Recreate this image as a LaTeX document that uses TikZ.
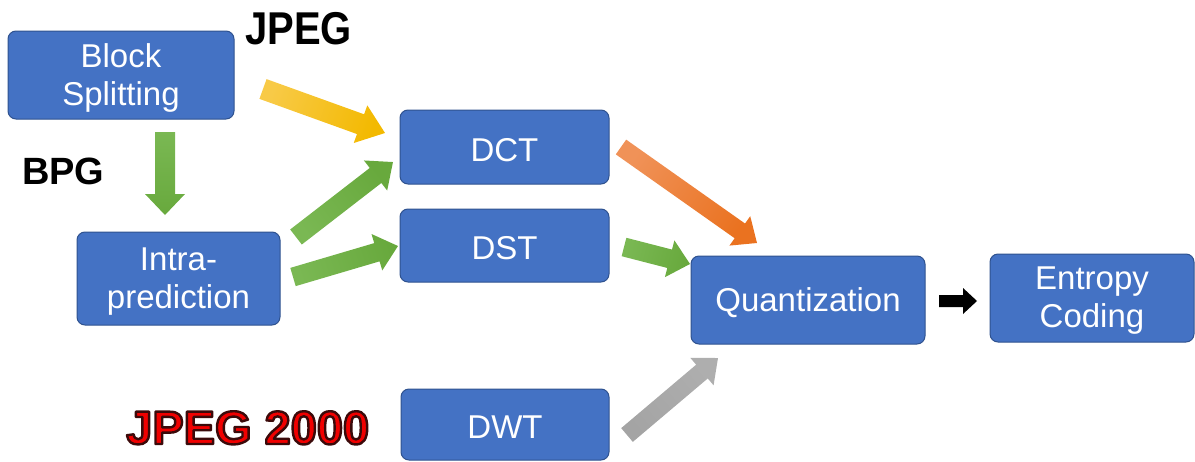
\documentclass[tikz,border=0pt]{standalone}
\usepackage{fontspec}
\setmainfont{Liberation Sans}
\usetikzlibrary{calc}
\definecolor{boxblue}{HTML}{4472C4}
\definecolor{boxedge}{HTML}{2F528F}
\definecolor{yellowA}{HTML}{F8CA47}
\definecolor{yellowB}{HTML}{F3B900}
\definecolor{greenA}{HTML}{7AB853}
\definecolor{greenB}{HTML}{68A93D}
\definecolor{orangeA}{HTML}{F09258}
\definecolor{orangeB}{HTML}{EA7220}
\definecolor{grayA}{HTML}{A4A4A4}
\definecolor{grayB}{HTML}{AEAEAE}
\definecolor{labelred}{HTML}{F00000}
% red letters with a dark outline (fill-and-stroke text render mode)
\newcommand{\outlinedtext}[1]{%
  {\color{labelred}%
   \special{pdf:literal direct 0.23 0.04 0.04 RG 2.4 w 1 j 2 Tr}%
   #1%
   \special{pdf:literal direct 0 Tr}}}
% stage text sits a little below the geometric centre
\newcommand{\low}[1]{\raisebox{-3pt}[\height][\depth]{#1}}
% shaded block arrow from a tail point to a tip point
% #1 tail, #2 tip, #3 tail colour, #4 tip colour,
% #5 half shaft width, #6 half head width, #7 head length
\newcommand{\blockarrow}[7]{%
  \path let \p1=($(#2)-(#1)$) in
    \pgfextra{\pgfmathsetmacro\arrang{atan2(\y1,\x1)}%
              \pgfmathsetmacro\arrlen{veclen(\x1,\y1)}%
              \global\let\arrowang\arrang
              \global\let\arrowlen\arrlen};
  \pgfmathsetmacro\arrowshade{\arrowang+90}%
  \shade[top color=#3, bottom color=#4, shading angle=\arrowshade,
         shift={(#1)}, rotate=\arrowang]
    (0,-#5) -- (\arrowlen-#7,-#5) -- (\arrowlen-#7,-#6) -- (\arrowlen,0)
    -- (\arrowlen-#7,#6) -- (\arrowlen-#7,#5) -- (0,#5) -- cycle;}
\tikzset{
  stage/.style={draw=boxedge, fill=boxblue, line width=1pt, rounded corners=8pt,
    text=white, align=center, inner sep=0pt,
    font=\fontsize{33}{38}\selectfont},
  codec/.style={font=\fontsize{40}{44}\selectfont\bfseries, inner sep=0pt}
}
\begin{document}
\begin{tikzpicture}[x=1pt, y=-1pt]
\useasboundingbox (0,0) rectangle (1195,461);

% processing stages
\node[stage, minimum width=226pt, minimum height=88pt] (split) at (121,75) {\low{Block}\\\low{Splitting}};
\node[stage, minimum width=203pt, minimum height=93pt] (intra) at (178.5,278.5) {\low{Intra-}\\\low{prediction}};
\node[stage, minimum width=209pt, minimum height=74pt] (dct) at (504.5,147) {\low{DCT}};
\node[stage, minimum width=209pt, minimum height=73pt] (dst) at (504.5,245.5) {\low{DST}};
\node[stage, minimum width=208pt, minimum height=71pt] (dwt) at (505,424.5) {\low{DWT}};
\node[stage, minimum width=234pt, minimum height=88pt] (quant) at (808,300) {\low{Quantization}};
\node[stage, minimum width=204pt, minimum height=88pt] (entropy) at (1092,298) {\low{Entropy}\\\low{Coding}};

% codec labels
\node[codec, anchor=north west] (jpeg) at (245,12) {\scalebox{1}[1.15]{JPEG}};
\node[codec, font=\fontsize{38}{42}\selectfont\bfseries, anchor=north west] (bpg) at (22,158) {BPG};
\node[inner sep=0pt, anchor=north west, font=\fontsize{47}{50}\selectfont\bfseries] (jp2k) at (126,411) {\outlinedtext{JPEG 2000}};

% arrow end points
\coordinate (y1) at (263,89);   \coordinate (y2) at (385,133);
\coordinate (d1) at (165,132);  \coordinate (d2) at (165,215);
\coordinate (g1) at (296,237);  \coordinate (g2) at (393,162);
\coordinate (h1) at (293,277);  \coordinate (h2) at (398,246);
\coordinate (o1) at (621,147);  \coordinate (o2) at (757,243);
\coordinate (q1) at (624,247);  \coordinate (q2) at (690,264);
\coordinate (w1) at (627,435);  \coordinate (w2) at (718,358);
\coordinate (e1) at (939,301);  \coordinate (e2) at (977,301);

% block arrows
\blockarrow{y1}{y2}{yellowA}{yellowB}{10.5}{20}{26}
\blockarrow{d1}{d2}{greenA}{greenB}{10}{20}{21}
\blockarrow{g1}{g2}{greenA}{greenB}{9.5}{19}{22}
\blockarrow{h1}{h2}{greenA}{greenB}{9.5}{19}{22}
\blockarrow{o1}{o2}{orangeA}{orangeB}{9}{18}{21}
\blockarrow{q1}{q2}{greenA}{greenB}{9.5}{19}{21}
\blockarrow{w1}{w2}{grayA}{grayB}{9}{18}{21}
\blockarrow{e1}{e2}{black}{black}{6}{13}{14}
\end{tikzpicture}
\end{document}
